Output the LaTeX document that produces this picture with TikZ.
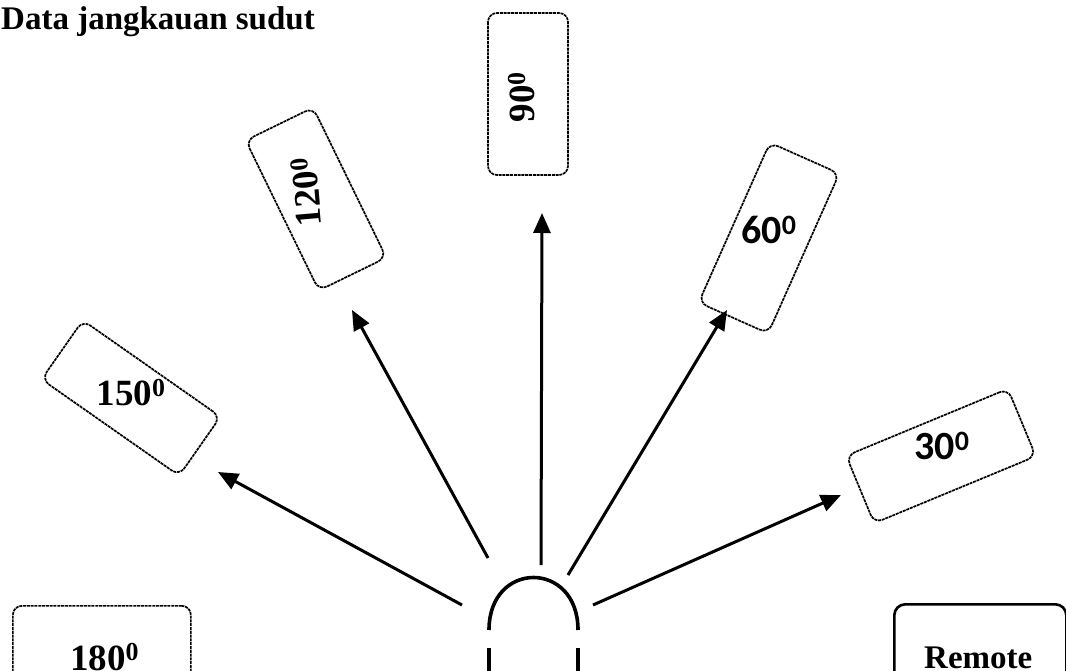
\documentclass[tikz,border=0pt]{standalone}
\usepackage{fontspec}
\setmainfont{Liberation Serif}
\newfontfamily\carl{Carlito}
\usetikzlibrary{arrows.meta}
\begin{document}
\begin{tikzpicture}[x=1pt,y=-1pt,
  abox/.style={draw, line width=1.7pt, dash pattern=on 3pt off 0.8pt, rounded corners=9pt, inner sep=0pt},
  rbox/.style={draw, line width=2.6pt, rounded corners=11pt, inner sep=0pt},
  arr/.style={line width=3pt, -{Triangle[length=20pt,width=17pt]}},
  dev/.style={line width=3.6pt},
  deg/.style={font=\fontsize{37}{40}\selectfont\bfseries, inner sep=0pt},
  degs/.style={font=\carl\fontsize{40}{42}\selectfont\bfseries, inner sep=0pt},
]
\useasboundingbox (0,0) rectangle (1066,670);
\clip (0,0) rectangle (1066,670);

% title
\node[font=\fontsize{33}{36}\selectfont\bfseries, anchor=base west, inner sep=0pt] (title) at (1,29) {Data jangkauan sudut};

% angle boxes
\node[abox, rotate=90, minimum width=162pt, minimum height=80pt] (b90) at (528,94) {};
\node[deg, rotate=90] (t90) at (522,97) {90\textsuperscript{0}};

\node[abox, rotate=116, minimum width=167pt, minimum height=75pt] (b120) at (316,199) {};
\node[deg, rotate=95] (t120) at (306,192) {120\textsuperscript{0}};

\node[abox, rotate=-35, minimum width=168pt, minimum height=72pt] (b150) at (131,398) {};
\node[deg] (t150) at (131,393) {150\textsuperscript{0}};

\node[abox, rotate=66, minimum width=175pt, minimum height=76pt] (b60) at (769,238) {};
\node[degs] (t60) at (769,230) {60\textsuperscript{0}};

\node[abox, rotate=22.5, minimum width=175pt, minimum height=73pt] (b30) at (941,456) {};
\node[degs] (t30) at (942,446) {30\textsuperscript{0}};

\node[abox, anchor=north west, minimum width=178pt, minimum height=120pt] (b180) at (12,605) {};
\node[deg, anchor=base west] (t180) at (70,670) {180\textsuperscript{0}};

\node[rbox, anchor=north west, minimum width=172pt, minimum height=120pt] (brem) at (893,603) {};
\node[font=\fontsize{33}{36}\selectfont\bfseries, anchor=base west, inner sep=0pt] (rem) at (924,668) {Remote};

% device
\coordinate (dl) at (489,630);
\coordinate (dr) at (578,630);
\coordinate (dlb) at (489,648);
\coordinate (drb) at (578,648);
\coordinate (dlx) at (489,690);
\coordinate (drx) at (578,690);
\draw[dev] (dl) .. controls (489,560) and (578,560) .. (dr);
\draw[dev] (dlb) -- (dlx);
\draw[dev] (drb) -- (drx);

% arrows
\coordinate (s150) at (462,605); \coordinate (e150) at (218,472);
\coordinate (s120) at (488,558); \coordinate (e120) at (352,310);
\coordinate (s90) at (541,565);  \coordinate (e90) at (542,213);
\coordinate (s60) at (568,575);  \coordinate (e60) at (727,310);
\coordinate (s30) at (593,605);  \coordinate (e30) at (841,495);
\draw[arr] (s150) -- (e150);
\draw[arr] (s120) -- (e120);
\draw[arr] (s90) -- (e90);
\draw[arr] (s60) -- (e60);
\draw[arr] (s30) -- (e30);
\end{tikzpicture}
\end{document}
